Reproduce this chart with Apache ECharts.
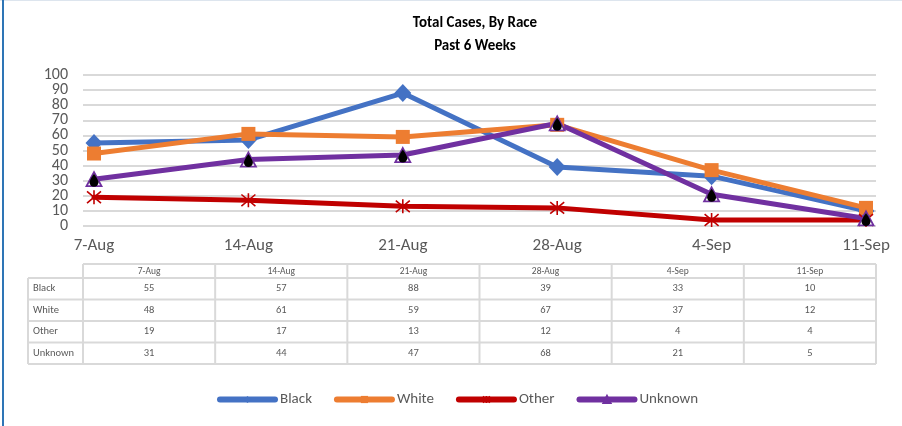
<!DOCTYPE html>
<html><head><meta charset="utf-8">
<script src="https://cdn.jsdelivr.net/npm/echarts@6/dist/echarts.min.js"></script>
<style>html,body{margin:0;padding:0;background:#fff}#c{width:902px;height:426px}</style>
</head><body><div id="c"></div>
<script>
const categories = ['7-Aug','14-Aug','21-Aug','28-Aug','4-Sep','11-Sep'];
const black   = [55, 57, 88, 39, 33, 10];
const white   = [48, 61, 59, 67, 37, 12];
const other   = [19, 17, 13, 12, 4, 4];
const unknown = [31, 44, 47, 68, 21, 5];
const seriesNames = ['Black','White','Other','Unknown'];
const yTicks = [0,10,20,30,40,50,60,70,80,90,100];

const FONT = 'Carlito, "Liberation Sans", "Open Sans", sans-serif';
const TXT = '#595959';
const colors = {Black:'#4472C4', White:'#ED7D31', Other:'#C00000', Unknown:'#7030A0'};
const values = {Black:black, White:white, Other:other, Unknown:unknown};

const chart = echarts.init(document.getElementById('c'), null, {renderer:'canvas'});

// table graphic built from arrays
const tbl = {left:28, colStart:83, right:876, headTop:264, headH:14, rowH:21.5};
const colW = (tbl.right - tbl.colStart) / categories.length;
const gfx = [];
const bc = '#d9d9d9';
function line(x1,y1,x2,y2){gfx.push({type:'line',shape:{x1,y1,x2,y2},style:{stroke:bc,lineWidth:2},silent:true});}
const bodyTop = tbl.headTop + tbl.headH;
const bodyBottom = bodyTop + tbl.rowH*seriesNames.length;
line(tbl.colStart, tbl.headTop, tbl.right, tbl.headTop);
for (let r=0;r<=seriesNames.length;r++){ const y=bodyTop+r*tbl.rowH; line(tbl.left,y,tbl.right,y); }
line(tbl.left, bodyTop, tbl.left, bodyBottom);
for (let c=0;c<=categories.length;c++){ const x=tbl.colStart+c*colW; line(x,tbl.headTop,x,bodyBottom); }
categories.forEach((cat,c)=>{
  gfx.push({type:'text',x:tbl.colStart+(c+0.5)*colW,y:tbl.headTop+tbl.headH/2+0.5,silent:true,
    style:{text:cat,fill:TXT,font:'9.5px '+FONT,align:'center',verticalAlign:'middle'}});
});
seriesNames.forEach((n,r)=>{
  const yc = bodyTop + (r+0.5)*tbl.rowH;
  gfx.push({type:'text',x:tbl.left+5,y:yc,silent:true,style:{text:n,fill:TXT,font:'10.5px '+FONT,align:'left',verticalAlign:'middle'}});
  values[n].forEach((v,c)=>{
    gfx.push({type:'text',x:tbl.colStart+(c+0.5)*colW,y:yc,silent:true,
      style:{text:String(v),fill:TXT,font:'10.5px '+FONT,align:'center',verticalAlign:'middle'}});
  });
});
// frame
gfx.push({type:'rect',shape:{x:0,y:0,width:902,height:1},style:{fill:'#dde5ee'},silent:true});
gfx.push({type:'rect',shape:{x:2,y:0,width:2,height:426},style:{fill:'#2E75B6'},silent:true});

const symbols = {
  Black:{symbol:'diamond', symbolSize:[17,18]},
  White:{symbol:'rect', symbolSize:14},
  Other:{symbol:'path://M0,0L10,10M10,0L0,10M5,-1L5,11', symbolSize:14},
  Unknown:{symbol:'triangle', symbolSize:[15,14]}
};

const series = seriesNames.map(n => {
  const s = {
    name:n, type:'line', data:values[n], xAxisIndex:0, yAxisIndex:0,
    symbol:symbols[n].symbol, symbolSize:symbols[n].symbolSize, showAllSymbol:true,
    lineStyle:{color:colors[n], width:5, cap:'round', join:'round'},
    itemStyle:{color:colors[n]},
    emphasis:{disabled:true}, animation:false
  };
  if (n==='Other'){ s.itemStyle = {color:colors[n], borderColor:colors[n], borderWidth:1.6}; }
  if (n==='Unknown'){ s.itemStyle = {color:'#ffffff', borderColor:colors[n], borderWidth:1.8}; }
  return s;
});
series.push({
  name:'UnknownDrop', type:'line', data:unknown, xAxisIndex:0, yAxisIndex:0,
  symbol:'path://M5,0C5,0 0,7 0,10.5A5,5 0 0 0 10,10.5C10,7 5,0 5,0Z', symbolSize:[9,13],
  symbolOffset:[0,1], showAllSymbol:true,
  lineStyle:{width:0, opacity:0}, itemStyle:{color:'#000'}, z:5,
  emphasis:{disabled:true}, animation:false, silent:true
});

const yLabelBase = {fontFamily:FONT, fontSize:16, color:TXT, showMinLabel:true, showMaxLabel:true};

chart.setOption({
  backgroundColor:'#fff',
  animation:false,
  title:{text:'Total Cases, By Race\nPast 6 Weeks', left:470, top:7, textAlign:'center',
    textStyle:{fontFamily:FONT, fontSize:15, fontWeight:'bold', color:'#000', lineHeight:23}},
  legend:{data:seriesNames.map(n=>({name:n,
      itemStyle: n==='Unknown' ? {color:colors[n], borderColor:colors[n]} : {color:colors[n]},
      lineStyle:{width:6, color:colors[n], cap:'round'}})),
    left:212, top:387, itemWidth:55, itemHeight:9, itemGap:22,
    textStyle:{fontFamily:FONT, fontSize:15, color:TXT}},
  grid:[
    {left:94, right:36, top:75, bottom:200},
    {left:83, right:26, top:75, bottom:200}
  ],
  xAxis:[
    {type:'category', gridIndex:0, data:categories, boundaryGap:false,
     axisLine:{show:false}, axisTick:{show:false},
     axisLabel:{fontFamily:FONT, fontSize:17, color:TXT, margin:11}},
    {type:'category', gridIndex:1, data:categories, show:false}
  ],
  yAxis:[
    // odd tens labels
    {type:'value', gridIndex:0, min:0, max:100, interval:10,
     axisLine:{show:false}, axisTick:{show:false}, splitLine:{show:false},
     axisLabel:Object.assign({}, yLabelBase, {margin:26,
       formatter:v=>(yTicks.includes(v) && v%20!==0)?String(v):''})},
    // even tens labels + gridlines
    {type:'value', gridIndex:1, min:0, max:100, interval:10,
     axisLine:{show:false}, axisTick:{show:false},
     axisLabel:Object.assign({}, yLabelBase, {margin:15,
       formatter:v=>(yTicks.includes(v) && v%20===0)?String(v):''}),
     splitLine:{lineStyle:{color:'#d9d9d9', width:2}}}
  ],
  series:series,
  graphic:gfx
});
</script></body></html>
